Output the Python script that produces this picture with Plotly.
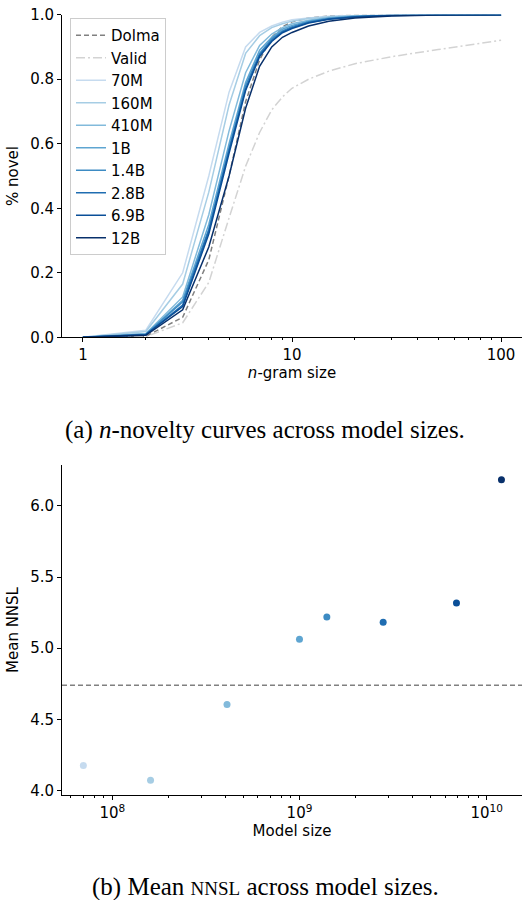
import plotly.graph_objects as go

# ---------------- data ----------------
ngram_sizes = [1, 2, 3, 4, 5, 6, 7, 8, 9, 10, 12, 15, 20, 30, 50, 100]

dolma = [0.0, 0.003, 0.062, 0.24, 0.50, 0.73, 0.86, 0.93, 0.963, 0.978, 0.99, 0.996, 0.999, 1.0, 1.0, 1.0]
valid = [0.0, 0.002, 0.045, 0.17, 0.37, 0.53, 0.635, 0.705, 0.745, 0.772, 0.80, 0.825, 0.848, 0.870, 0.892, 0.921]

model_names = ["70M", "160M", "410M", "1B", "1.4B", "2.8B", "6.9B", "12B"]
model_sizes = [70e6, 160e6, 410e6, 1.0e9, 1.4e9, 2.8e9, 6.9e9, 12e9]

novel_70m = [0.0, 0.022, 0.20, 0.50, 0.76, 0.90, 0.945, 0.965, 0.977, 0.984, 0.990, 0.995, 0.998, 0.999, 1.0, 1.0]
novel_160m = [0.0, 0.018, 0.165, 0.45, 0.72, 0.88, 0.935, 0.960, 0.972, 0.980, 0.988, 0.994, 0.997, 0.999, 1.0, 1.0]
novel_410m = [0.0, 0.012, 0.125, 0.38, 0.64, 0.82, 0.905, 0.940, 0.960, 0.972, 0.983, 0.991, 0.996, 0.999, 1.0, 1.0]
novel_1b = [0.0, 0.010, 0.115, 0.35, 0.60, 0.79, 0.890, 0.930, 0.955, 0.967, 0.980, 0.989, 0.995, 0.998, 1.0, 1.0]
novel_1_4b = [0.0, 0.009, 0.110, 0.335, 0.585, 0.78, 0.880, 0.925, 0.950, 0.963, 0.978, 0.988, 0.994, 0.998, 1.0, 1.0]
novel_2_8b = [0.0, 0.008, 0.100, 0.33, 0.58, 0.77, 0.875, 0.920, 0.947, 0.960, 0.976, 0.987, 0.994, 0.998, 1.0, 1.0]
novel_6_9b = [0.0, 0.008, 0.095, 0.32, 0.57, 0.765, 0.870, 0.917, 0.944, 0.957, 0.974, 0.986, 0.993, 0.998, 1.0, 1.0]
novel_12b = [0.0, 0.006, 0.085, 0.28, 0.50, 0.71, 0.840, 0.900, 0.930, 0.945, 0.965, 0.980, 0.990, 0.996, 0.999, 1.0]

model_curves = [novel_70m, novel_160m, novel_410m, novel_1b, novel_1_4b,
                novel_2_8b, novel_6_9b, novel_12b]

mean_nnsl = [4.176, 4.073, 4.604, 5.063, 5.220, 5.183, 5.318, 6.183]
dolma_nnsl = 4.74

# Blues colormap samples
model_colors = ["#c6dbef", "#a6cde4", "#82badb", "#5ea5d1", "#3d8bc3",
                "#1f6db1", "#0a4f98", "#08306b"]

top_ticks = [1, 10, 100]
top_tick_text = ["1", "10", "100"]
top_minor = [2, 3, 4, 5, 6, 7, 8, 9, 20, 30, 40, 50, 60, 70, 80, 90]
nnsl_ticks = [4.0, 4.5, 5.0, 5.5, 6.0]
bottom_ticks = [1e8, 1e9, 1e10]
bottom_tick_text = ["10<sup>8</sup>", "10<sup>9</sup>", "10<sup>10</sup>"]
bottom_minor = [6e7, 7e7, 8e7, 9e7, 2e8, 3e8, 4e8, 5e8, 6e8, 7e8, 8e8, 9e8,
                2e9, 3e9, 4e9, 5e9, 6e9, 7e9, 8e9, 9e9]

# ---------------- figure ----------------
W, H = 523, 900
SANS = "DejaVu Sans"
SERIF = "Liberation Serif"
FS = 15

fig = go.Figure()

fig.add_trace(go.Scatter(x=ngram_sizes, y=dolma, mode="lines", name="Dolma",
                         line=dict(color="#808080", width=1.5, dash="5px,3px"),
                         xaxis="x", yaxis="y", legendgroup="dolma"))
fig.add_trace(go.Scatter(x=ngram_sizes, y=valid, mode="lines", name="Valid",
                         line=dict(color="#d3d3d3", width=1.5, dash="9px,3px,2px,3px"),
                         xaxis="x", yaxis="y", legendgroup="valid"))
for name, curve, col in zip(model_names, model_curves, model_colors):
    fig.add_trace(go.Scatter(x=ngram_sizes, y=curve, mode="lines", name=name,
                             line=dict(color=col, width=1.5),
                             xaxis="x", yaxis="y", legendgroup=name))

fig.add_trace(go.Scatter(x=model_sizes, y=mean_nnsl, mode="markers",
                         marker=dict(color=model_colors, size=7, line=dict(width=0)),
                         showlegend=False, xaxis="x2", yaxis="y2"))
fig.add_shape(type="line", xref="x2 domain", yref="y2", x0=0, x1=1,
              y0=dolma_nnsl, y1=dolma_nnsl,
              line=dict(color="#808080", width=1.5, dash="5px,3px"))

x_dom = [62 / W, 522 / W]
top_dom = [(H - 337.3) / H, (H - 14.7) / H]
bot_dom = [(H - 795.3) / H, (H - 464.7) / H]

axis_common = dict(showgrid=False, zeroline=False, showline=True, linecolor="black",
                   linewidth=1, ticks="outside", ticklen=4, tickwidth=1,
                   tickcolor="black", automargin=False,
                   tickfont=dict(family=SANS, size=FS, color="black"))

fig.update_layout(
    width=W, height=H,
    margin=dict(l=0, r=0, t=0, b=0),
    paper_bgcolor="white", plot_bgcolor="white",
    font=dict(family=SANS, size=FS, color="black"),
    xaxis=dict(domain=x_dom, type="log", range=[-0.1, 2.1], anchor="y",
               tickmode="array", tickvals=top_ticks, ticktext=top_tick_text,
               minor=dict(tickvals=top_minor, ticks="outside", ticklen=2,
                          tickwidth=0.8, tickcolor="black"),
               title=dict(text="<i>n</i>-gram size", font=dict(family=SANS, size=FS),
                          standoff=3),
               **axis_common),
    yaxis=dict(domain=top_dom, range=[0, 1], anchor="x",
               tickmode="array", tickvals=[0, 0.2, 0.4, 0.6, 0.8, 1.0],
               tickformat=".1f",
               title=dict(text="% novel", font=dict(family=SANS, size=FS), standoff=7),
               **axis_common),
    xaxis2=dict(domain=x_dom, type="log", range=[7.731, 10.189], anchor="y2",
                tickmode="array", tickvals=bottom_ticks, ticktext=bottom_tick_text,
                minor=dict(tickvals=bottom_minor, ticks="outside", ticklen=2,
                           tickwidth=0.8, tickcolor="black"),
                title=dict(text="Model size", font=dict(family=SANS, size=FS),
                           standoff=2),
                **axis_common),
    yaxis2=dict(domain=bot_dom, range=[3.967, 6.289], anchor="x2",
                tickmode="array", tickvals=nnsl_ticks, tickformat=".1f",
                title=dict(text="Mean NNSL", font=dict(family=SANS, size=FS), standoff=7),
                **axis_common),
    legend=dict(x=70 / W, y=(H - 18) / H, xanchor="left", yanchor="top",
                bgcolor="rgba(255,255,255,0.8)", bordercolor="#cccccc", borderwidth=1,
                font=dict(family=SANS, size=FS, color="black"),
                tracegroupgap=0, itemwidth=30),
    showlegend=True,
    annotations=[
        dict(text="(a) <i>n</i>-novelty curves across model sizes.",
             xref="paper", yref="paper", x=265 / W, y=(H - 430) / H,
             xanchor="center", yanchor="middle", showarrow=False,
             font=dict(family=SERIF, size=25, color="black")),
        dict(text="(b) Mean <span style=\"font-size:19px\">NNSL</span> across model sizes.",
             xref="paper", yref="paper", x=265 / W, y=(H - 887) / H,
             xanchor="center", yanchor="middle", showarrow=False,
             font=dict(family=SERIF, size=25, color="black")),
    ],
)

fig.write_html("out.html",
               config={"displayModeBar": False},
               post_script="document.body.style.margin='0';"
                           "document.body.style.overflow='hidden';")
